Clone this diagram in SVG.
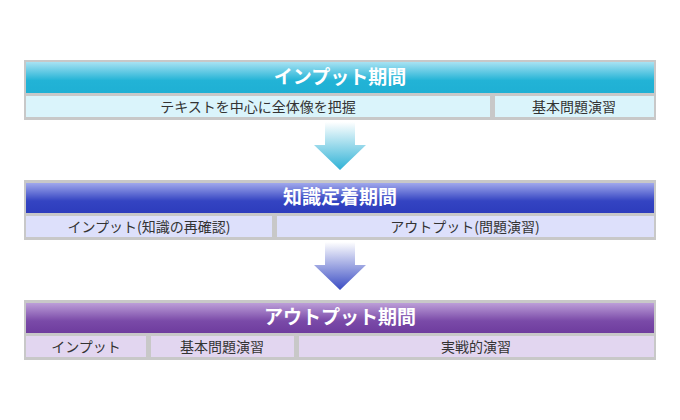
<svg xmlns="http://www.w3.org/2000/svg" width="680" height="420" viewBox="0 0 680 420">
<defs>
<linearGradient id="g1" x1="0" y1="0" x2="0" y2="1"><stop offset="0" stop-color="#a8e2f2"/><stop offset="0.6" stop-color="#22b3d6"/><stop offset="1" stop-color="#1fb0d4"/></linearGradient>
<linearGradient id="g2" x1="0" y1="0" x2="0" y2="1"><stop offset="0" stop-color="#a0a8ec"/><stop offset="0.6" stop-color="#3444c2"/><stop offset="1" stop-color="#2d3cbc"/></linearGradient>
<linearGradient id="g3" x1="0" y1="0" x2="0" y2="1"><stop offset="0" stop-color="#bc9ed8"/><stop offset="0.6" stop-color="#7a4aa8"/><stop offset="1" stop-color="#6e3c9e"/></linearGradient>
<linearGradient id="a1" x1="0" y1="0" x2="0" y2="1"><stop offset="0" stop-color="#ffffff"/><stop offset="1" stop-color="#2fb2d6"/></linearGradient>
<linearGradient id="a2" x1="0" y1="0" x2="0" y2="1"><stop offset="0" stop-color="#ffffff"/><stop offset="1" stop-color="#3a4cc4"/></linearGradient>
</defs>
<style>
.frame{fill:#c8c8c8}
.h{font-family:"Noto Sans CJK JP","Liberation Sans",sans-serif;font-size:19px;font-weight:bold;fill:#fff;text-anchor:middle}
.s{font-family:"Noto Sans CJK JP","Liberation Sans",sans-serif;font-size:14px;fill:#333;text-anchor:middle}
</style>
<rect width="680" height="420" fill="#fff"/>
<g id="connectors">
<polygon points="325,122 355,122 355,145 366,145 340,170 314,145 325,145" fill="url(#a1)"/>
<polygon points="325,242 355,242 355,265 366,265 340,290 314,265 325,265" fill="url(#a2)"/>
</g>
<g id="input">
<rect class="frame" x="24" y="60" width="632" height="60"/>
<rect x="26" y="62" width="628" height="31" fill="url(#g1)"/>
<text class="h" x="340" y="84">インプット期間</text>
<rect x="26" y="96" width="464" height="21" fill="#daf4fb"/>
<rect x="495" y="96" width="159" height="21" fill="#daf4fb"/>
<text class="s" x="258" y="112">テキストを中心に全体像を把握</text>
<text class="s" x="574" y="112">基本問題演習</text>
</g>
<g id="teichaku">
<rect class="frame" x="24" y="180" width="632" height="60"/>
<rect x="26" y="183" width="628" height="30" fill="url(#g2)"/>
<text class="h" x="340" y="204">知識定着期間</text>
<rect x="26" y="216" width="246" height="21" fill="#dde0fb"/>
<rect x="277" y="216" width="377" height="21" fill="#dde0fb"/>
<text class="s" x="149" y="232">インプット(知識の再確認)</text>
<text class="s" x="465" y="232">アウトプット(問題演習)</text>
</g>
<g id="output">
<rect class="frame" x="24" y="300" width="632" height="60"/>
<rect x="26" y="303" width="628" height="30" fill="url(#g3)"/>
<text class="h" x="340" y="324">アウトプット期間</text>
<rect x="26" y="336" width="120" height="21" fill="#e2d6f0"/>
<rect x="151" y="336" width="143" height="21" fill="#e2d6f0"/>
<rect x="299" y="336" width="355" height="21" fill="#e2d6f0"/>
<text class="s" x="86" y="352">インプット</text>
<text class="s" x="222" y="352">基本問題演習</text>
<text class="s" x="476" y="352">実戦的演習</text>
</g>
</svg>
